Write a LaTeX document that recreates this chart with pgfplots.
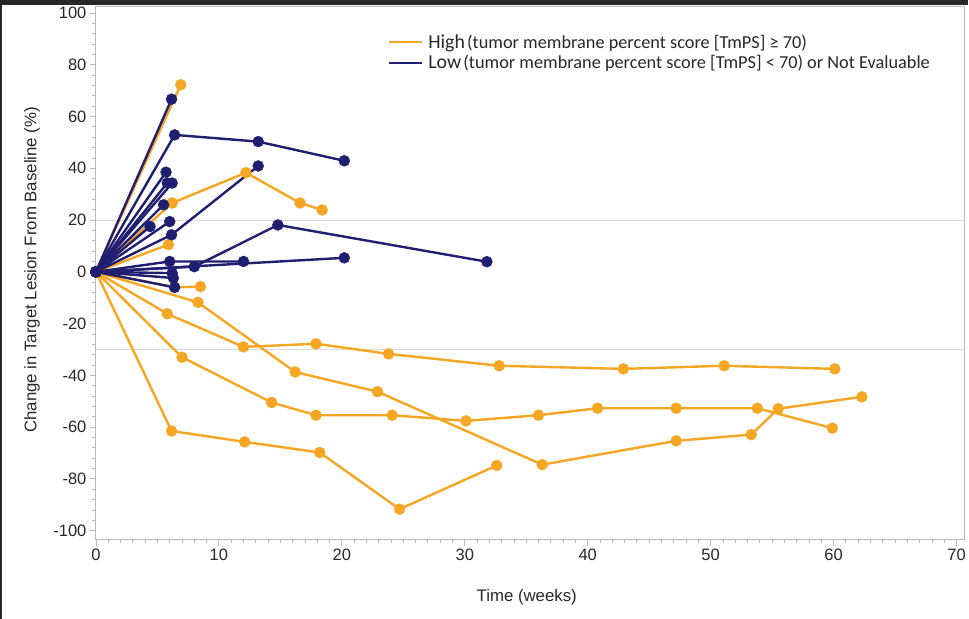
\documentclass[border=0pt]{standalone}
\usepackage{pgfplots}
\pgfplotsset{compat=1.18}
\usepackage{fontspec}
\setmainfont{Liberation Sans}
\newfontfamily\legfont{Carlito}
\definecolor{hi}{RGB}{245,166,35}
\definecolor{lo}{RGB}{32,30,112}
\definecolor{axgray}{RGB}{185,185,185}
\definecolor{refgray}{RGB}{218,218,218}
\definecolor{txt}{RGB}{40,40,40}
\pgfplotsset{
  hiS/.style={color=hi, line width=2.4pt, mark=*, mark size=5.5pt, mark options={solid, fill=hi, draw=hi, line width=0.4pt}},
  loS/.style={color=lo, line width=2.4pt, mark=*, mark size=5.5pt, mark options={solid, fill=lo, draw=lo, line width=0.4pt}},
}
\begin{document}
\begin{tikzpicture}[x=1pt,y=1pt]
\fill[white] (0,0) rectangle (969,619);
\fill[black!85] (0,614) rectangle (969,619);
\fill[black!85] (0,0) rectangle (2,619);
\begin{axis}[
  at={(96pt,79pt)}, anchor=south west, scale only axis,
  width=869pt, height=534pt,
  xmin=0, xmax=70.65, ymin=-103.5, ymax=102.7,
  xtick={0,10,...,70}, ytick={-100,-80,...,100},
  minor x tick num=9, minor y tick num=4,
  xtick pos=bottom, ytick pos=left,
  tick align=outside, major tick length=6pt, minor tick length=3.5pt,
  axis line style={draw=axgray, line width=0.9pt},
  tick style={draw=axgray, line width=0.8pt},
  /pgf/number format/assume math mode=true,
  ticklabel style={font=\fontsize{16.5}{18}\selectfont, text=txt},
  xlabel={Time (weeks)}, ylabel={Change in Target Lesion From Baseline (\%)},
  label style={font=\fontsize{16.8}{19}\selectfont, text=txt},
  xlabel style={at={(rel axis cs:0.496,-0.1085)}, anchor=center},
  ylabel style={at={(rel axis cs:-0.0736,0.5056)}, anchor=center},
  legend style={at={(rel axis cs:0.336,0.951)}, anchor=north west, draw=none, fill=none,
    font=\legfont, row sep=2pt, inner sep=0pt, text=txt,
    nodes={inner xsep=5pt}},
  legend cell align=left,
  legend image code/.code={\draw[#1] (0pt,0pt) -- (33pt,0pt);},
]
% reference lines
\addplot[refgray, line width=0.9pt, forget plot] coordinates {(0,20) (70.65,20)};
\addplot[refgray, line width=0.9pt, forget plot] coordinates {(0,-30) (70.65,-30)};
% High (orange)
\addplot[hiS, forget plot] coordinates {(0,0) (6.9,72.3)};
\addplot[hiS, forget plot] coordinates {(0,0) (6.2,26.6) (12.2,38.3) (16.6,26.6) (18.4,23.9)};
\addplot[hiS, forget plot] coordinates {(0,0) (5.9,10.5)};
\addplot[hiS, forget plot] coordinates {(0,0) (6.4,-6.0) (8.5,-5.7)};
\addplot[hiS, forget plot] coordinates {(0,0) (8.3,-11.8) (16.2,-38.7) (22.9,-46.3) (36.3,-74.5) (47.2,-65.3) (53.3,-62.9) (55.5,-52.9) (62.3,-48.3)};
\addplot[hiS, forget plot] coordinates {(0,0) (5.8,-16.2) (12.0,-29.0) (17.9,-27.8) (23.8,-31.7) (32.8,-36.3) (42.9,-37.5) (51.1,-36.3) (60.1,-37.5)};
\addplot[hiS, forget plot] coordinates {(0,0) (7.0,-33.0) (14.3,-50.5) (17.9,-55.4) (24.1,-55.4) (30.1,-57.6) (36.0,-55.4) (40.8,-52.7) (47.2,-52.7) (53.8,-52.7) (59.9,-60.4)};
\addplot[hiS, forget plot] coordinates {(0,0) (6.15,-61.5) (12.1,-65.7) (18.2,-69.8) (24.7,-91.7) (32.6,-74.8)};
% Low (navy)
\addplot[loS, forget plot] coordinates {(0,0) (6.15,66.7)};
\addplot[loS, forget plot] coordinates {(0,0) (6.4,52.9) (13.2,50.3) (20.2,42.9)};
\addplot[loS, forget plot] coordinates {(0,0) (5.7,38.5)};
\addplot[loS, forget plot] coordinates {(0,0) (5.8,34.3)};
\addplot[loS, forget plot] coordinates {(0,0) (6.2,34.3)};
\addplot[loS, forget plot] coordinates {(0,0) (5.5,25.9)};
\addplot[loS, forget plot] coordinates {(0,0) (4.4,17.5)};
\addplot[loS, forget plot] coordinates {(0,0) (6.0,19.4)};
\addplot[loS, forget plot] coordinates {(0,0) (6.15,14.3) (13.2,40.9)};
\addplot[loS, forget plot] coordinates {(0,0) (6.0,4.0) (12.0,4.0)};
\addplot[loS, forget plot] coordinates {(0,0) (8.0,2.0) (14.8,18.1) (31.8,3.9)};
\addplot[loS, forget plot] coordinates {(0,0) (20.2,5.4)};
\addplot[loS, forget plot] coordinates {(0,0) (6.2,-0.5)};
\addplot[loS, forget plot] coordinates {(0,0) (6.3,-2.4)};
\addplot[loS, forget plot] coordinates {(0,0) (6.4,-6.0)};
\addplot[loS, forget plot] coordinates {(0,0)};
% legend
\addlegendimage{hi, line width=2.4pt}
\addlegendentry{{\fontsize{19.8}{21}\selectfont High} {\fontsize{18.3}{20}\selectfont (tumor membrane percent score [TmPS] ≥ 70)}}
\addlegendimage{lo, line width=2.4pt}
\addlegendentry{{\fontsize{19.8}{21}\selectfont Low} {\fontsize{18.3}{20}\selectfont (tumor membrane percent score [TmPS] < 70) or Not Evaluable}}
\end{axis}
\end{tikzpicture}
\end{document}
